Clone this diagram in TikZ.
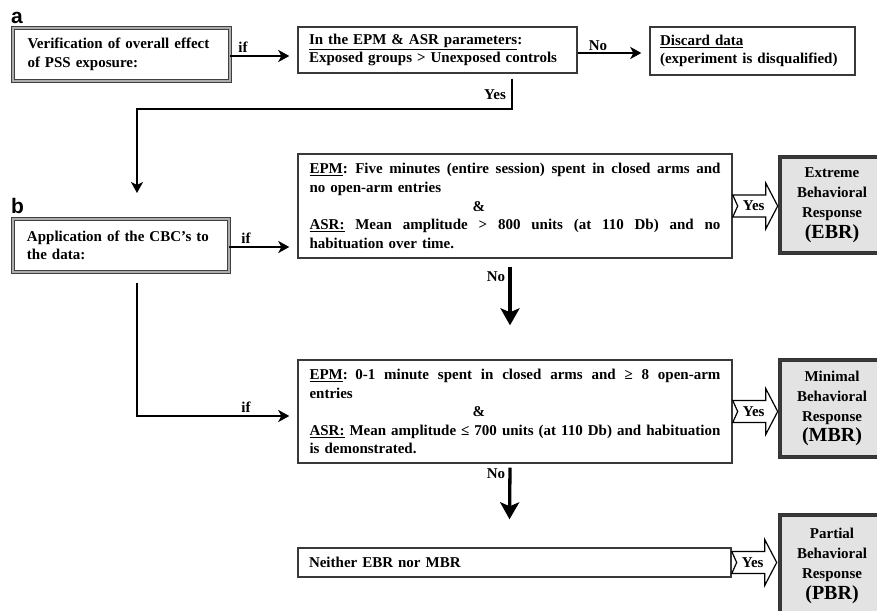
\documentclass[tikz,border=0pt]{standalone}
\usepackage{fontspec}
\setmainfont{Liberation Serif}
\newfontfamily\panelfont{Liberation Sans}
\usetikzlibrary{arrows.meta,calc}

% one justified line of the criteria boxes (spaces stretch to fill the line)
\newcommand\jline[1]{\leavevmode\hbox to 411pt{\spaceskip=3.75pt plus 1fil\relax #1}}

% notched block arrow labelled "Yes", starting at the east side of a node
\newcommand\yesconn[2]{%
  \draw[blockarrow] ($(#1.east)+(0,-11)$) -- ++(33,0) -- ++(0,-12) -- ++(12,23)
    -- ++(-12,23) -- ++(0,-12) -- ++(-33,0) -- ++(5,-11) -- cycle;
  \node[lbl, font=\bfseries\fontsize{15}{16}\selectfont] (#2) at ($(#1.east)+(21,0)$) {Yes};
}

\tikzset{
  txt/.style={font=\bfseries\fontsize{15}{18.6}\selectfont},
  lbl/.style={txt, inner sep=0pt},
  plainbox/.style={draw=gray!45!black, line width=1.4pt, fill=white, txt,
    inner sep=0pt, align=left},
  dblbox/.style={draw=black!75, line width=0.8pt, double=gray!65,
    double distance=2.6pt, fill=white, txt, inner sep=0pt, align=left},
  resbox/.style={draw=black!80, line width=0.9pt, double=gray!45!black,
    double distance=2.8pt, fill=gray!22, txt, align=center, inner sep=0pt},
  flow/.style={line width=2pt, -{Stealth[length=11pt,width=12pt,inset=3pt]}},
  flowthick/.style={line width=3.3pt, -{Stealth[length=17pt,width=19pt,inset=4pt]}},
  blockarrow/.style={draw=black, line width=1.2pt, fill=white, line join=miter},
  panel/.style={font=\panelfont\bfseries\fontsize{21}{21}\selectfont, inner sep=0pt,
    anchor=base west}
}

\begin{document}
\begin{tikzpicture}[x=1pt,y=-1pt]
\clip (0,0) rectangle (877,610);
\fill[white] (0,0) rectangle (877,610);

% ---------- panel a ----------
\node[panel] (pa) at (11,24) {a};

\node[dblbox, minimum width=217pt, minimum height=53pt, text width=188pt]
  (verify) at (121.5,54.5) {Verification of overall effect\\of PSS exposure:};

\node[plainbox, minimum width=279pt, minimum height=46pt, text width=257pt]
  (params) at (437.5,50) {\underline{In the EPM \& ASR parameters}:\\Exposed groups > Unexposed controls};

\node[plainbox, minimum width=205pt, minimum height=48pt, text width=185pt]
  (discard) at (752.5,51) {\underline{Discard data}\\(experiment is disqualified)};

\draw[flow, shorten >=8pt] ([yshift=-1.5pt]verify.east) -- ([yshift=-1.5pt]verify.east -| params.west);
\node[lbl] (ifa) at (243,47) {if};

\draw[flow, shorten >=8pt] ([yshift=-3pt]params.east) -- ([yshift=-3pt]params.east -| discard.west);
\node[lbl] (noa) at (598,46) {No};

\coordinate (yesdrop) at (137,193);
\draw[flow] ($(params.south east)+(-66,5)$) -- ++(0,30) -| (yesdrop);
\node[lbl] (yesa) at (495,95) {Yes};

% ---------- panel b ----------
\node[panel] (pb) at (11,213) {b};

\node[dblbox, minimum width=216pt, minimum height=53pt, text width=188pt]
  (apply) at (121,245.5) {Application of the CBC's to\\the data:};

\node[plainbox, minimum width=434pt, minimum height=104pt, text width=411pt]
  (crit1) at (515,206) {%
  \jline{\underline{EPM}: Five minutes (entire session) spent in closed arms and}\\
  no open-arm entries\\
  \hspace*{163pt}\&\\
  \jline{\underline{ASR:} Mean amplitude > 800 units (at 110 Db) and no}\\
  habituation over time.};

\node[plainbox, minimum width=434pt, minimum height=103pt, text width=411pt]
  (crit2) at (515,411.5) {%
  \jline{\underline{EPM}: 0-1 minute spent in closed arms and ≥ 8 open-arm}\\
  entries\\
  \hspace*{163pt}\&\\
  \jline{\underline{ASR:} Mean amplitude ≤ 700 units (at 110 Db) and habituation}\\
  is demonstrated.};

\node[plainbox, minimum width=433pt, minimum height=29pt, text width=411pt]
  (neither) at (514.5,562.5) {Neither EBR nor MBR};

% response categories
\node[resbox, minimum width=104pt, minimum height=96pt] (ebr) at (832,205)
  {Extreme\\[1.5pt]Behavioral\\[1.5pt]Response\\[2pt]{\fontsize{20}{22}\selectfont (EBR)}};
\node[resbox, minimum width=104pt, minimum height=97pt] (mbr) at (832,408.5)
  {Minimal\\[1.5pt]Behavioral\\[1.5pt]Response\\[2pt]{\fontsize{20}{22}\selectfont (MBR)}};
\node[resbox, minimum width=104pt, minimum height=102pt] (pbr) at (832,566)
  {Partial\\[1.5pt]Behavioral\\[1.5pt]Response\\[2pt]{\fontsize{20}{22}\selectfont (PBR)}};

% decision flow
\draw[flow, shorten >=8pt] ([yshift=-1.5pt]apply.east) -- ([yshift=-1.5pt]apply.east -| crit1.west);
\node[lbl] (ifb) at (246,238) {if};

\draw[flow, shorten >=8pt] ($(apply.south)+(16,11)$) |- ([yshift=-4.5pt]crit2.west);
\node[lbl] (ifc) at (246,407) {if};

\draw[flowthick] ($(crit1.south)+(-5,8)$) -- ($(crit2.north)+(-5,-34)$);
\node[lbl] (nob) at (496,277) {No};

\draw[flowthick] ($(crit2.south)+(-5,4)$) -- ($(neither.north)+(-5,-28)$);
\node[lbl] (noc) at (496,474) {No};

\yesconn{crit1}{yesb}
\yesconn{crit2}{yesc}
\yesconn{neither}{yesd}
\end{tikzpicture}
\end{document}
